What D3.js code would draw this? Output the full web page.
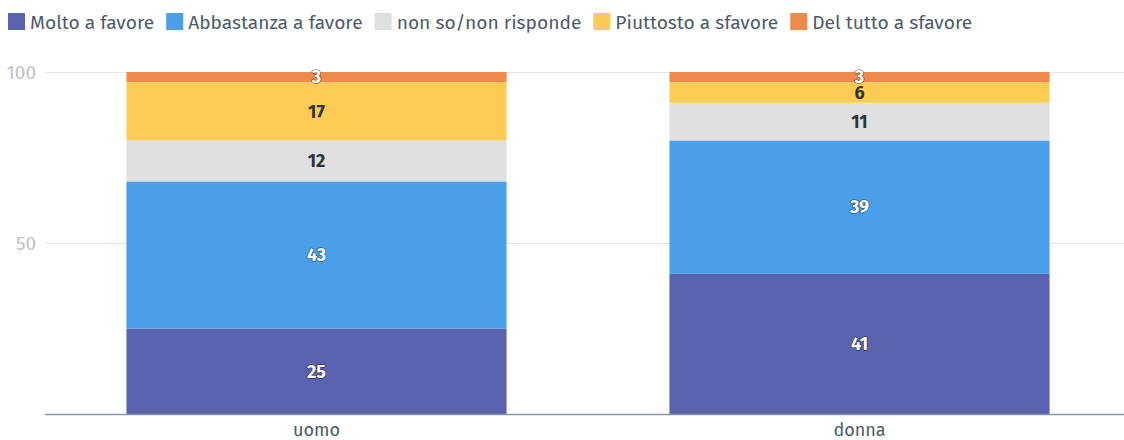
<!DOCTYPE html>
<html>
<head>
<meta charset="utf-8">
<script src="https://cdn.jsdelivr.net/npm/d3@7"></script>
<style>
  body { margin: 0; background: #fff; }
  svg { font-family: "Fira Sans", "Noto Sans", sans-serif; display: block; }
</style>
</head>
<body>
<div id="app"></div>
<script>
const categories = ['uomo', 'donna']
const seriesNames = ['Molto a favore', 'Abbastanza a favore', 'non so/non risponde', 'Piuttosto a sfavore', 'Del tutto a sfavore']
const molto = [25, 41]
const abbastanza = [43, 39]
const nonSo = [12, 11]
const piuttosto = [17, 6]
const delTutto = [3, 3]
const yTicks = [50, 100]

const colors = ['#5b63b1', '#4a9fe8', '#e0e0e0', '#fdcc55', '#ef8a4d']
const lightText = [false, false, true, true, false]

const w = 1124, h = 440
const padLeft = 45, padBottom = 414, padTop = 72

const svg = d3.select('#app').append('svg')
  .attr('width', w)
  .attr('height', h)

// build rows for the stack
const values = [molto, abbastanza, nonSo, piuttosto, delTutto]
const rows = categories.map((c, i) => {
  const r = { cat: c }
  seriesNames.forEach((s, j) => { r[s] = values[j][i] })
  return r
})
const stacked = d3.stack().keys(seriesNames)(rows)

const x = d3.scaleBand()
  .domain(categories)
  .range([padLeft, 1131])
  .paddingInner(0.3)
  .paddingOuter(0.15)

const y = d3.scaleLinear()
  .domain([0, 100])
  .range([padBottom, padTop])

// grid + y labels
svg.append('g').selectAll('line')
  .data(yTicks)
  .enter().append('line')
  .attr('x1', padLeft).attr('x2', w)
  .attr('y1', d => y(d) + 0.5).attr('y2', d => y(d) + 0.5)
  .attr('stroke', '#e6e6e6')

svg.append('g').selectAll('text')
  .data(yTicks)
  .enter().append('text')
  .attr('x', 36)
  .attr('y', d => y(d))
  .attr('dy', '0.35em')
  .attr('text-anchor', 'end')
  .attr('fill', '#c2c2c2')
  .style('font-size', '19px')
  .text(d => d)

// bars
const layers = svg.append('g').selectAll('g')
  .data(stacked)
  .enter().append('g')
  .attr('fill', (d, i) => colors[i])

layers.selectAll('rect')
  .data(d => d)
  .enter().append('rect')
  .attr('x', d => x(d.data.cat))
  .attr('y', d => y(d[1]))
  .attr('width', x.bandwidth())
  .attr('height', d => y(d[0]) - y(d[1]))

// value labels
stacked.forEach((layer, i) => {
  const g = svg.append('g')
  layer.forEach(d => {
    const cx = x(d.data.cat) + x.bandwidth() / 2
    const cy = y((d[0] + d[1]) / 2)
    const t = g.append('text')
      .attr('x', cx)
      .attr('y', cy)
      .attr('dy', '0.35em')
      .attr('text-anchor', 'middle')
      .style('font-size', '18px')
      .style('font-weight', 'bold')
      .text(d[1] - d[0])
    if (lightText[i]) {
      t.attr('fill', '#333')
    } else {
      t.attr('fill', '#fff')
        .attr('stroke', 'rgba(0,0,0,0.45)')
        .attr('stroke-width', 1.6)
        .attr('paint-order', 'stroke')
        .attr('stroke-linejoin', 'round')
    }
  })
})

// x axis line
svg.append('line')
  .attr('x1', padLeft).attr('x2', w)
  .attr('y1', padBottom + 0.5).attr('y2', padBottom + 0.5)
  .attr('stroke', '#8797a5')
  .attr('stroke-width', 1.5)

svg.append('g').selectAll('text')
  .data(categories)
  .enter().append('text')
  .attr('x', d => x(d) + x.bandwidth() / 2)
  .attr('y', 430)
  .attr('dy', '0.35em')
  .attr('text-anchor', 'middle')
  .attr('fill', '#4c5b6b')
  .style('font-size', '18px')
  .text(d => d)

// legend
const legend = svg.append('g')
let lx = 8
seriesNames.forEach((s, i) => {
  legend.append('rect')
    .attr('x', lx).attr('y', 13)
    .attr('width', 17).attr('height', 17)
    .attr('fill', colors[i])
  const t = legend.append('text')
    .attr('x', lx + 22)
    .attr('y', 22)
    .attr('dy', '0.35em')
    .attr('fill', '#4c5b6b')
    .style('font-size', '19.2px')
    .text(s)
  lx += 22 + t.node().getComputedTextLength() + 12
})
</script>
</body>
</html>
